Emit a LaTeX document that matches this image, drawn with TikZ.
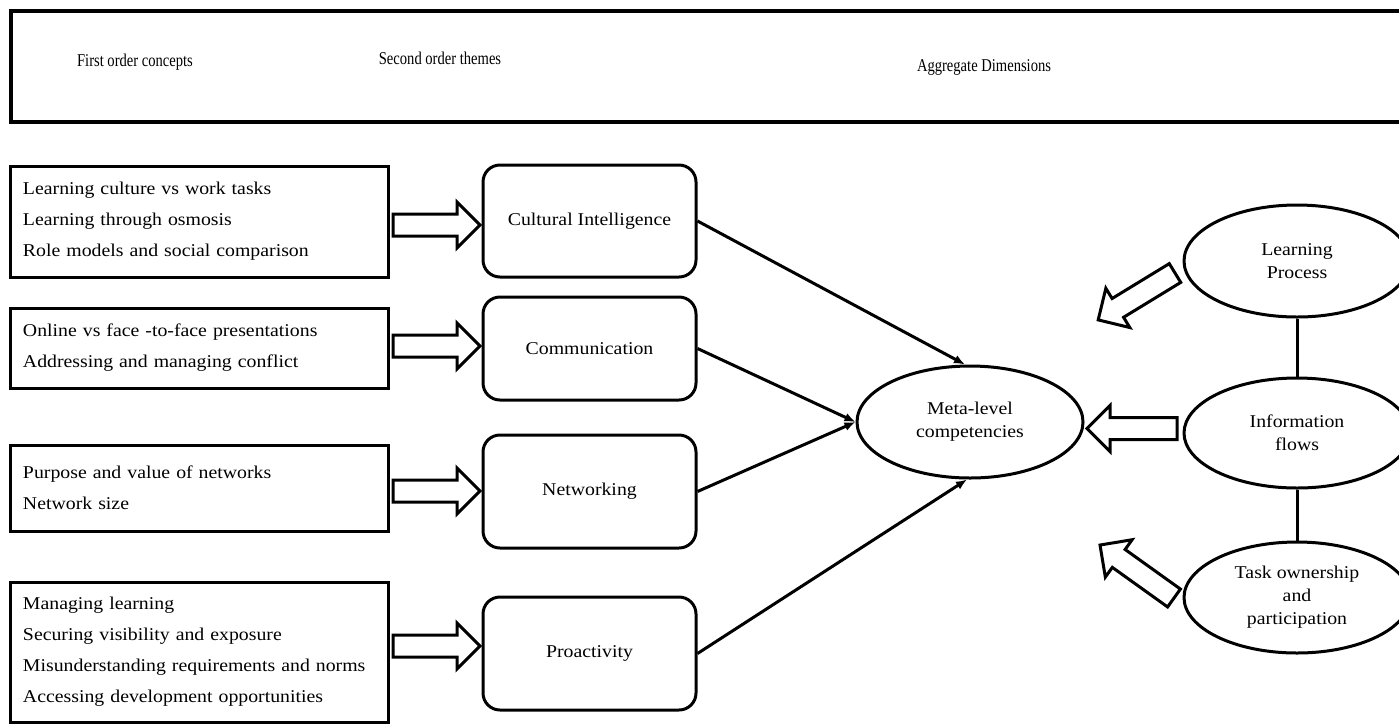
\documentclass[tikz,border=0pt]{standalone}
\usepackage{fontspec}
\setmainfont{Liberation Serif}[FakeStretch=1.1]
\newfontfamily\hdrfont{Liberation Serif}[FakeStretch=0.81]
\usetikzlibrary{shapes.geometric,arrows.meta}
\newcommand\blockarrow[4]{%
  \draw[barrow, shift={(#1,#2)}, rotate=#3] (0,-11) -- ({#4-23},-11) -- ({#4-23},-23) -- (#4,0) -- ({#4-23},23) -- ({#4-23},11) -- (0,11) -- cycle;}
\begin{document}
\begin{tikzpicture}[x=1pt,y=-1pt,
  hdrbox/.style={draw, line width=4pt, rectangle, anchor=north west, inner sep=0pt},
  hdrtext/.style={font=\hdrfont\fontsize{18}{22}\selectfont, inner sep=0pt},
  conceptbox/.style={draw, line width=3pt, rectangle, align=left, text width=352pt, inner xsep=13pt, inner ysep=0pt, minimum width=378pt, font=\fontsize{18}{31}\selectfont},
  themebox/.style={draw, line width=3pt, rectangle, rounded corners=17pt, minimum width=213pt, inner sep=0pt, font=\fontsize{18}{22}\selectfont},
  dimension/.style={draw, ellipse, line width=3pt, minimum width=226pt, minimum height=112pt, inner sep=0pt, align=center, font=\fontsize{18}{23}\selectfont},
  barrow/.style={line width=3pt, line join=miter, fill=white},
  link/.style={line width=3pt, -{Latex[length=11pt,width=9pt]}},
  tie/.style={line width=3pt}
]
\useasboundingbox (0,0) rectangle (1399,724);
\clip (0,0) rectangle (1399,724);

% header
\node[hdrbox, minimum width=1400pt, minimum height=111pt] (header) at (9,9) {};
\node[hdrtext] (h1) at (135,62) {First order concepts};
\node[hdrtext] (h2) at (440,58) {Second order themes};
\node[hdrtext] (h3) at (984,67) {Aggregate Dimensions};

% first order concepts
\node[conceptbox, minimum height=111pt] (c1) at (199,221.5) {Learning culture vs work tasks\\Learning through osmosis\\Role models and social comparison};
\node[conceptbox, minimum height=80pt] (c2) at (199,348) {Online vs face -to-face presentations\\Addressing and managing conflict};
\node[conceptbox, minimum height=86pt] (c3) at (199,488) {Purpose and value of networks\\Network size};
\node[conceptbox, minimum height=140pt] (c4) at (199,652) {Managing learning\\Securing visibility and exposure\\Misunderstanding requirements and norms\\Accessing development opportunities};

% second order themes
\node[themebox, minimum height=112pt] (t1) at (589.5,221) {Cultural Intelligence};
\node[themebox, minimum height=103pt] (t2) at (589.5,348.5) {Communication};
\node[themebox, minimum height=113pt] (t3) at (589.5,491.5) {Networking};
\node[themebox, minimum height=113pt] (t4) at (589.5,653.5) {Proactivity};

% block arrows concepts -> themes
\blockarrow{393}{225}{0}{87}
\blockarrow{393}{346}{0}{87}
\blockarrow{393}{491}{0}{87}
\blockarrow{393}{646}{0}{87}

% aggregate dimensions
\node[dimension] (meta) at (970,422) {Meta-level\\competencies};
\node[dimension, minimum height=112pt] (lp) at (1297,261) {Learning\\Process};
\node[dimension, minimum height=110pt] (inf) at (1297,433) {Information\\flows};
\node[dimension, minimum height=111pt] (task) at (1297,597.5) {Task ownership\\and\\participation};

% connectors themes -> meta
\draw[link] (t1.east) -- ([xshift=-5pt]meta.north);
\draw[link] (t2.east) -- (meta.west);
\draw[link] (t3.east) -- (meta.west);
\draw[link] (t4.east) -- ([xshift=-3pt]meta.south);

% ties between right ellipses
\draw[tie] (lp.south) -- (inf.north);
\draw[tie] (inf.south) -- (task.north);

% block arrows dimensions -> meta
\blockarrow{1175}{273}{211.4}{90}
\blockarrow{1177}{428.5}{180}{90}
\blockarrow{1174}{598}{144.4}{91}
\end{tikzpicture}
\end{document}
